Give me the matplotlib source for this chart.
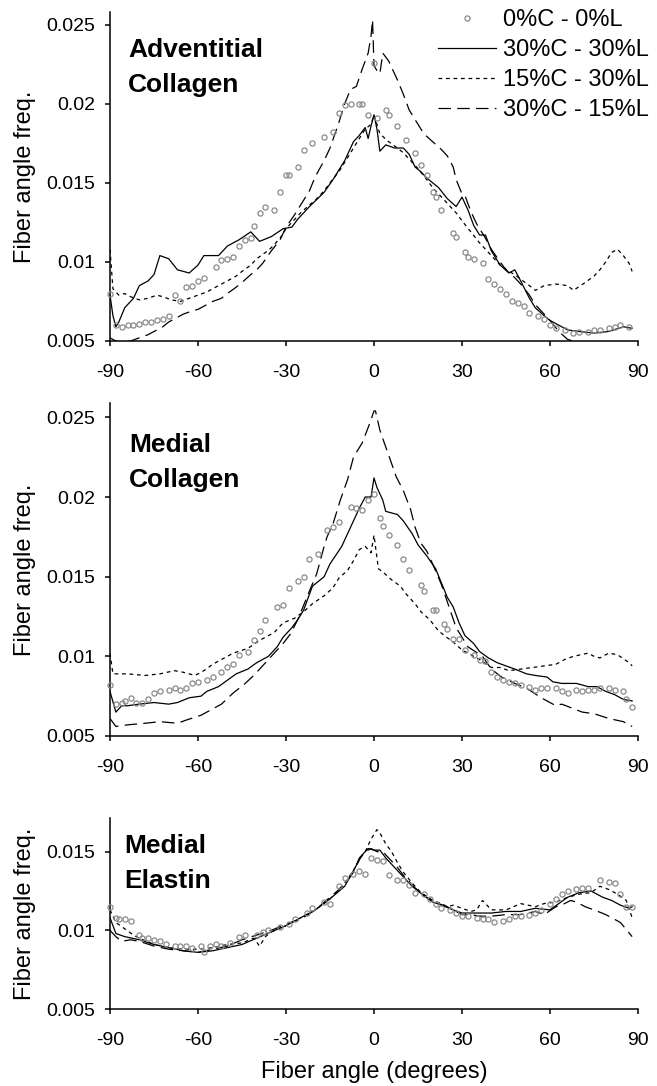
"""
Fiber angle distributions: three stacked panels (adventitial collagen,
medial collagen, medial elastin) for four loading conditions.
"""
import matplotlib
matplotlib.use("Agg")
import matplotlib.pyplot as plt
from matplotlib.lines import Line2D

W, H = 657, 1086

# ---------------- data ----------------
angle_ticks = [-90, -60, -30, 0, 30, 60, 90]
series_labels = ["0%C - 0%L", "30%C - 30%L", "15%C - 30%L", "30%C - 15%L"]

# Adventitial collagen
adv_ctrl_x = [-90, -88, -86, -84, -82, -80, -78, -76, -74, -72, -70, -68, -66, -64, -62, -60, -58, -54, -52, -50,
              -48, -46, -44, -42, -41, -39, -37, -34, -32, -30, -29, -26, -24, -21, -17, -14, -12, -10, -8, -5,
              -4, -2, 0, 1, 4, 5, 8, 11, 14, 16, 18, 20, 21, 23, 27, 28, 31, 32, 34, 37,
              39, 41, 43, 45, 47, 49, 51, 53, 56, 58, 60, 62, 65, 68, 70, 73, 75, 77, 80, 82, 84, 87]
adv_ctrl_y = [0.0080, 0.0060, 0.0059, 0.0060, 0.0060, 0.0061, 0.0062, 0.0062, 0.0063, 0.0064, 0.0066, 0.0079,
              0.0075, 0.0084, 0.0085, 0.0088, 0.0090, 0.0097, 0.0101, 0.0102, 0.0103, 0.0110, 0.0114, 0.0115,
              0.0123, 0.0131, 0.0135, 0.0133, 0.0144, 0.0155, 0.0155, 0.0160, 0.0171, 0.0175, 0.0179, 0.0182,
              0.0194, 0.0199, 0.0200, 0.0200, 0.0200, 0.0193, 0.0226, 0.0191, 0.0196, 0.0193, 0.0186, 0.0177,
              0.0169, 0.0161, 0.0155, 0.0144, 0.0141, 0.0133, 0.0118, 0.0116, 0.0106, 0.0103, 0.0102, 0.0099,
              0.0089, 0.0086, 0.0083, 0.0080, 0.0075, 0.0074, 0.0072, 0.0068, 0.0066, 0.0064, 0.0060, 0.0058,
              0.0057, 0.0055, 0.0056, 0.0056, 0.0057, 0.0057, 0.0058, 0.0059, 0.0060, 0.0059]
adv_3030_x = [-90, -89, -88, -87, -85, -82, -80, -77, -75, -73, -70, -67, -63, -60, -58, -53, -50, -46, -42, -39,
              -35, -31, -28, -26, -22, -17, -14, -12, -10, -7, -5, -3, -2, -1, 0, 1, 2, 4, 7, 10,
              12, 14, 16, 18, 20, 22, 25, 28, 30, 32, 34, 36, 38, 40, 43, 46, 48, 50, 53, 55,
              58, 60, 63, 66, 70, 75, 80, 85, 88]
adv_3030_y = [0.0079, 0.0066, 0.0059, 0.0062, 0.0071, 0.0077, 0.0085, 0.0088, 0.0092, 0.0104, 0.0102, 0.0095,
              0.0093, 0.0098, 0.0104, 0.0104, 0.0110, 0.0114, 0.0119, 0.0113, 0.0116, 0.0121, 0.0122, 0.0127,
              0.0135, 0.0144, 0.0152, 0.0158, 0.0164, 0.0176, 0.0180, 0.0185, 0.0178, 0.0186, 0.0193, 0.0184,
              0.0170, 0.0174, 0.0172, 0.0172, 0.0168, 0.0160, 0.0157, 0.0153, 0.0150, 0.0147, 0.0140, 0.0135,
              0.0141, 0.0133, 0.0123, 0.0117, 0.0117, 0.0107, 0.0098, 0.0093, 0.0095, 0.0088, 0.0077, 0.0071,
              0.0066, 0.0063, 0.0060, 0.0057, 0.0056, 0.0055, 0.0056, 0.0059, 0.0058]
adv_1530_x = [-90, -89, -87, -85, -83, -80, -77, -74, -72, -69, -66, -63, -60, -57, -55, -52, -50, -47, -45, -42,
              -40, -37, -35, -32, -30, -27, -25, -22, -20, -17, -15, -12, -10, -7, -5, -3, -1, 0, 2, 5,
              8, 10, 13, 15, 18, 20, 22, 25, 28, 30, 33, 36, 40, 43, 46, 48, 50, 53, 55, 58,
              62, 66, 68, 72, 75, 77, 79, 81, 83, 85, 87, 88]
adv_1530_y = [0.0108, 0.0083, 0.0079, 0.0080, 0.0078, 0.0076, 0.0077, 0.0079, 0.0078, 0.0076, 0.0075, 0.0077,
              0.0079, 0.0081, 0.0083, 0.0086, 0.0088, 0.0091, 0.0094, 0.0098, 0.0102, 0.0106, 0.0109, 0.0115,
              0.0121, 0.0127, 0.0131, 0.0136, 0.0139, 0.0145, 0.0150, 0.0157, 0.0163, 0.0172, 0.0178, 0.0184,
              0.0187, 0.0193, 0.0181, 0.0176, 0.0172, 0.0169, 0.0163, 0.0159, 0.0152, 0.0147, 0.0143, 0.0137,
              0.0131, 0.0126, 0.0119, 0.0112, 0.0104, 0.0098, 0.0094, 0.0092, 0.0089, 0.0085, 0.0082, 0.0085,
              0.0086, 0.0085, 0.0082, 0.0087, 0.0091, 0.0095, 0.0100, 0.0106, 0.0108, 0.0104, 0.0099, 0.0094]
adv_3015_x = [-90, -88, -86, -83, -80, -77, -75, -72, -70, -67, -65, -62, -60, -57, -55, -52, -50, -47, -45, -42,
              -40, -38, -35, -32, -30, -27, -25, -22, -20, -17, -15, -12, -10, -8, -6, -4, -2, -1, -0.5, 0,
              1, 2, 3, 5, 8, 10, 12, 14, 17, 20, 23, 25, 27, 28, 30, 31, 33, 35, 38, 40,
              43, 45, 48, 50, 53, 55, 58, 60, 63, 66, 70, 75, 80, 85, 88]
adv_3015_y = [0.0052, 0.0050, 0.0049, 0.0050, 0.0052, 0.0054, 0.0056, 0.0059, 0.0062, 0.0065, 0.0067, 0.0069,
              0.0070, 0.0073, 0.0075, 0.0077, 0.0080, 0.0084, 0.0087, 0.0092, 0.0095, 0.0099, 0.0107, 0.0114,
              0.0122, 0.0130, 0.0136, 0.0145, 0.0154, 0.0164, 0.0172, 0.0188, 0.0200, 0.0209, 0.0211, 0.0222,
              0.0232, 0.0243, 0.0253, 0.0224, 0.0221, 0.0219, 0.0232, 0.0227, 0.0215, 0.0206, 0.0196, 0.0190,
              0.0181, 0.0176, 0.0171, 0.0167, 0.0160, 0.0152, 0.0143, 0.0142, 0.0132, 0.0124, 0.0115, 0.0108,
              0.0100, 0.0095, 0.0090, 0.0086, 0.0079, 0.0073, 0.0067, 0.0063, 0.0056, 0.0051, 0.0049, 0.0046,
              0.0044, 0.0043, 0.0043]

# Medial collagen
med_ctrl_x = [-90, -88, -86, -85, -83, -81, -79, -77, -75, -73, -70, -68, -66, -64, -62, -60, -57, -55, -52, -50,
              -48, -46, -43, -41, -39, -37, -33, -31, -29, -26, -24, -22, -19, -16, -14, -12, -8, -6, -4, -2,
              0, 2, 3, 5, 8, 10, 12, 16, 17, 20, 21, 24, 25, 27, 29, 31, 34, 36, 38, 40,
              42, 44, 46, 48, 50, 53, 55, 57, 59, 62, 64, 66, 69, 71, 73, 75, 77, 80, 82, 85, 86, 88]
med_ctrl_y = [0.0082, 0.0070, 0.0071, 0.0072, 0.0074, 0.0071, 0.0071, 0.0073, 0.0077, 0.0078, 0.0079, 0.0080,
              0.0079, 0.0080, 0.0083, 0.0084, 0.0085, 0.0087, 0.0090, 0.0093, 0.0095, 0.0101, 0.0103, 0.0110,
              0.0116, 0.0123, 0.0131, 0.0132, 0.0143, 0.0147, 0.0150, 0.0161, 0.0164, 0.0179, 0.0181, 0.0184,
              0.0194, 0.0193, 0.0192, 0.0198, 0.0202, 0.0187, 0.0182, 0.0176, 0.0170, 0.0161, 0.0154, 0.0145,
              0.0141, 0.0129, 0.0129, 0.0120, 0.0117, 0.0111, 0.0111, 0.0104, 0.0101, 0.0098, 0.0097, 0.0090,
              0.0087, 0.0085, 0.0084, 0.0083, 0.0082, 0.0081, 0.0079, 0.0080, 0.0080, 0.0080, 0.0078, 0.0077,
              0.0079, 0.0078, 0.0079, 0.0079, 0.0080, 0.0080, 0.0079, 0.0078, 0.0073, 0.0068]
med_3030_x = [-90, -88, -86, -84, -80, -75, -70, -67, -63, -59, -57, -53, -50, -47, -43, -40, -36, -33, -31, -28,
              -26, -24, -21, -17, -15, -11, -9, -7, -5, -3, -1, 0, 1, 3, 4, 8, 10, 13, 15, 18,
              21, 23, 25, 27, 29, 31, 34, 36, 39, 42, 45, 48, 52, 55, 59, 61, 64, 69, 73, 76,
              79, 82, 85, 88]
med_3030_y = [0.0078, 0.0065, 0.0069, 0.0069, 0.0070, 0.0071, 0.0070, 0.0071, 0.0074, 0.0075, 0.0078, 0.0081,
              0.0085, 0.0089, 0.0092, 0.0096, 0.0100, 0.0106, 0.0112, 0.0118, 0.0123, 0.0129, 0.0144, 0.0150,
              0.0158, 0.0169, 0.0177, 0.0185, 0.0193, 0.0200, 0.0200, 0.0212, 0.0206, 0.0198, 0.0191, 0.0189,
              0.0185, 0.0177, 0.0170, 0.0163, 0.0155, 0.0146, 0.0137, 0.0131, 0.0121, 0.0113, 0.0108, 0.0103,
              0.0099, 0.0096, 0.0094, 0.0092, 0.0089, 0.0088, 0.0087, 0.0084, 0.0083, 0.0083, 0.0081, 0.0081,
              0.0078, 0.0076, 0.0073, 0.0072]
med_1530_x = [-90, -89, -84, -78, -73, -68, -65, -61, -58, -55, -51, -48, -43, -39, -34, -31, -27, -24, -21, -17,
              -14, -12, -9, -7, -5, -3, -1, 0, 1.5, 3, 6, 9, 11, 14, 16, 19, 22, 24, 27, 30,
              33, 36, 40, 43, 46, 50, 54, 58, 62, 65, 68, 73, 75, 77, 80, 83, 87, 88]
med_1530_y = [0.0102, 0.0089, 0.0089, 0.0088, 0.0089, 0.0091, 0.0090, 0.0088, 0.0091, 0.0095, 0.0099, 0.0102,
              0.0105, 0.0110, 0.0115, 0.0121, 0.0124, 0.0128, 0.0133, 0.0138, 0.0143, 0.0149, 0.0154, 0.0160,
              0.0167, 0.0169, 0.0165, 0.0176, 0.0155, 0.0153, 0.0148, 0.0144, 0.0139, 0.0133, 0.0128, 0.0123,
              0.0116, 0.0113, 0.0109, 0.0104, 0.0101, 0.0098, 0.0093, 0.0093, 0.0091, 0.0092, 0.0093, 0.0094,
              0.0095, 0.0098, 0.0100, 0.0102, 0.0100, 0.0099, 0.0102, 0.0101, 0.0096, 0.0094]
med_3015_x = [-90, -88, -84, -78, -73, -67, -64, -59, -56, -52, -48, -44.5, -41, -37.5, -34, -31, -28.5, -26, -24,
              -22, -19.5, -17, -16, -14, -11.5, -9, -7, -4, -1.5, 0, 0.5, 2, 3.5, 6, 7.5, 10, 12.5, 14,
              16, 18, 20, 23, 28, 32, 37, 40, 43.5, 48, 52, 57, 62, 64, 71, 75, 80, 85, 88]
med_3015_y = [0.0061, 0.0056, 0.0057, 0.0058, 0.0059, 0.0058, 0.0060, 0.0063, 0.0066, 0.0070, 0.0077, 0.0082,
              0.0088, 0.0095, 0.0102, 0.0108, 0.0114, 0.0123, 0.0132, 0.0141, 0.0152, 0.0169, 0.0175, 0.0183,
              0.0198, 0.0211, 0.0225, 0.0234, 0.0246, 0.0254, 0.0254, 0.0242, 0.0234, 0.0221, 0.0213, 0.0204,
              0.0192, 0.0181, 0.0171, 0.0166, 0.0158, 0.0145, 0.0118, 0.0106, 0.0100, 0.0092, 0.0087, 0.0083,
              0.0080, 0.0074, 0.0069, 0.0070, 0.0065, 0.0064, 0.0061, 0.0059, 0.0056]

# Medial elastin
ela_ctrl_x = [-90, -88, -87, -85, -83, -80, -79, -77, -75, -73, -71, -68, -66, -64, -62, -59, -58, -56, -54, -52,
              -49, -46, -44, -40, -38, -36, -32, -29, -27, -23, -21, -17, -15, -12, -10, -7, -5, -3, -1, 1,
              3, 5, 8, 10, 12, 14, 17, 19, 21, 23, 26, 28, 30, 32, 35, 37, 39, 41, 44, 46,
              48, 50, 53, 55, 57, 60, 62, 64, 66, 69, 71, 73, 77, 80, 82, 84, 86, 88]
ela_ctrl_y = [0.0115, 0.0108, 0.0107, 0.0107, 0.0106, 0.0097, 0.0095, 0.0095, 0.0094, 0.0093, 0.0091, 0.0090,
              0.0090, 0.0090, 0.0089, 0.0090, 0.0086, 0.0090, 0.0091, 0.0090, 0.0092, 0.0096, 0.0097, 0.0097,
              0.0099, 0.0100, 0.0102, 0.0104, 0.0107, 0.0111, 0.0114, 0.0118, 0.0117, 0.0128, 0.0133, 0.0136,
              0.0138, 0.0136, 0.0146, 0.0145, 0.0144, 0.0135, 0.0132, 0.0132, 0.0129, 0.0124, 0.0123, 0.0120,
              0.0117, 0.0114, 0.0113, 0.0111, 0.0109, 0.0109, 0.0108, 0.0107, 0.0107, 0.0105, 0.0106, 0.0107,
              0.0109, 0.0109, 0.0110, 0.0111, 0.0113, 0.0117, 0.0120, 0.0123, 0.0125, 0.0126, 0.0127, 0.0127,
              0.0132, 0.0131, 0.0130, 0.0123, 0.0115, 0.0115]
ela_3030_x = [-90, -88, -85, -80, -75, -70, -65, -60, -55, -50, -45, -40, -35, -30, -25, -20, -15, -10, -7, -4,
              -2, 0, 2, 4, 7, 10, 13, 17, 20, 23, 27, 30, 35, 40, 45, 50, 55, 60, 63, 66,
              70, 74, 78, 81, 84, 87, 88]
ela_3030_y = [0.0108, 0.0098, 0.0096, 0.0094, 0.0091, 0.0089, 0.0087, 0.0086, 0.0087, 0.0089, 0.0091, 0.0095,
              0.0099, 0.0103, 0.0108, 0.0113, 0.0120, 0.0128, 0.0138, 0.0148, 0.0152, 0.0151, 0.0151, 0.0146,
              0.0140, 0.0134, 0.0128, 0.0122, 0.0118, 0.0116, 0.0113, 0.0111, 0.0111, 0.0111, 0.0112, 0.0112,
              0.0114, 0.0113, 0.0117, 0.0121, 0.0124, 0.0125, 0.0121, 0.0119, 0.0116, 0.0114, 0.0115]
ela_1530_x = [-90, -88, -85, -82, -80, -75, -70, -65, -60, -55, -50, -45, -41, -39, -37, -35, -30, -25, -20, -15,
              -10, -7, -5, -3, -1, 1, 2, 4, 6, 8, 10, 13, 16, 20, 23, 25, 27, 30, 33, 35,
              37, 40, 45, 50, 55, 58, 62, 66, 70, 74, 77, 80, 83, 86, 88]
ela_1530_y = [0.0113, 0.0105, 0.0101, 0.0097, 0.0095, 0.0091, 0.0089, 0.0088, 0.0088, 0.0089, 0.0091, 0.0092,
              0.0095, 0.0090, 0.0096, 0.0099, 0.0103, 0.0108, 0.0113, 0.0120, 0.0130, 0.0138, 0.0145, 0.0150,
              0.0158, 0.0164, 0.0162, 0.0155, 0.0150, 0.0143, 0.0137, 0.0130, 0.0124, 0.0119, 0.0117, 0.0115,
              0.0116, 0.0114, 0.0112, 0.0113, 0.0119, 0.0113, 0.0113, 0.0117, 0.0115, 0.0117, 0.0118, 0.0121,
              0.0123, 0.0124, 0.0128, 0.0126, 0.0123, 0.0119, 0.0108]
ela_3015_x = [-90, -88, -86, -83, -80, -75, -70, -65, -60, -55, -50, -45, -40, -35, -30, -25, -20, -15, -10, -7,
              -5, -3, -1, 1, 3, 5, 8, 10, 14, 18, 22, 25, 28, 30, 33, 36, 40, 45, 50, 55,
              58, 62, 65, 67, 69, 72, 75, 79, 84, 88]
ela_3015_y = [0.0100, 0.0096, 0.0093, 0.0094, 0.0093, 0.0090, 0.0088, 0.0087, 0.0086, 0.0088, 0.0090, 0.0094,
              0.0097, 0.0100, 0.0104, 0.0107, 0.0113, 0.0121, 0.0129, 0.0137, 0.0146, 0.0150, 0.0152, 0.0150,
              0.0150, 0.0146, 0.0140, 0.0135, 0.0127, 0.0121, 0.0117, 0.0115, 0.0112, 0.0110, 0.0110, 0.0109,
              0.0109, 0.0110, 0.0110, 0.0112, 0.0110, 0.0115, 0.0117, 0.0119, 0.0118, 0.0115, 0.0113, 0.0110,
              0.0105, 0.0096]

adv_yticks = [0.005, 0.01, 0.015, 0.02, 0.025]
adv_ytick_labels = ["0.005", "0.01", "0.015", "0.02", "0.025"]
med_yticks = [0.005, 0.01, 0.015, 0.02, 0.025]
med_ytick_labels = ["0.005", "0.01", "0.015", "0.02", "0.025"]
ela_yticks = [0.005, 0.01, 0.015]
ela_ytick_labels = ["0.005", "0.01", "0.015"]

# ---------------- styles / layout ----------------
plt.rcParams["font.family"] = ["Liberation Sans", "DejaVu Sans"]

STYLE_CTRL = dict(ls="none", marker="o", ms=3.7, mfc="none", mec="#8a8a8a", mew=0.9, clip_on=False, zorder=3)
STYLE_3030 = dict(color="black", lw=0.9, ls="-")
STYLE_1530 = dict(color="black", lw=0.9, ls=(0, (3, 3)))
STYLE_3015 = dict(color="black", lw=0.9, ls=(0, (10, 5)))

LEFT_PX, RIGHT_PX = 110, 638


def px_rect(top_px, bottom_px):
    return [LEFT_PX / W, 1 - bottom_px / H, (RIGHT_PX - LEFT_PX) / W, (bottom_px - top_px) / H]


panels = [
    dict(rect=px_rect(12, 341), ylim=(0.005, 0.0258), yticks=adv_yticks, ylabels=adv_ytick_labels,
         ctrl=(adv_ctrl_x, adv_ctrl_y), s3030=(adv_3030_x, adv_3030_y),
         s1530=(adv_1530_x, adv_1530_y), s3015=(adv_3015_x, adv_3015_y),
         title=["Adventitial", "Collagen"], title_xy=(128, [57, 92])),
    dict(rect=px_rect(403, 736), ylim=(0.005, 0.0259), yticks=med_yticks, ylabels=med_ytick_labels,
         ctrl=(med_ctrl_x, med_ctrl_y), s3030=(med_3030_x, med_3030_y),
         s1530=(med_1530_x, med_1530_y), s3015=(med_3015_x, med_3015_y),
         title=["Medial", "Collagen"], title_xy=(129, [452, 487])),
    dict(rect=px_rect(818, 1009), ylim=(0.005, 0.01714), yticks=ela_yticks, ylabels=ela_ytick_labels,
         ctrl=(ela_ctrl_x, ela_ctrl_y), s3030=(ela_3030_x, ela_3030_y),
         s1530=(ela_1530_x, ela_1530_y), s3015=(ela_3015_x, ela_3015_y),
         title=["Medial", "Elastin"], title_xy=(124, [853, 888])),
]

fig = plt.figure(figsize=(W / 100, H / 100), dpi=100)
axes = []
for p in panels:
    ax = fig.add_axes(p["rect"])
    ax.plot(*p["s3030"], **STYLE_3030)
    ax.plot(*p["s1530"], **STYLE_1530)
    ax.plot(*p["s3015"], **STYLE_3015)
    ax.plot(*p["ctrl"], **STYLE_CTRL)

    ax.set_xlim(-90, 90)
    ax.set_ylim(*p["ylim"])
    ax.set_xticks(angle_ticks)
    ax.set_xticklabels([str(a) for a in angle_ticks])
    ax.set_yticks(p["yticks"])
    ax.set_yticklabels(p["ylabels"])
    for side in ("top", "right"):
        ax.spines[side].set_visible(False)
    for side in ("left", "bottom"):
        ax.spines[side].set_linewidth(1.1)
    ax.tick_params(axis="both", direction="out", length=3.5, width=1.1, labelsize=14)
    ax.tick_params(axis="x", pad=13)
    ax.tick_params(axis="y", pad=7)

    ax.set_ylabel("Fiber angle freq.", fontsize=17)
    ax.yaxis.set_label_coords(-0.140, 0.5)

    x_px, base_px = p["title_xy"]
    for line, yb in zip(p["title"], base_px):
        fig.text(x_px / W, 1 - yb / H, line, fontsize=19, fontweight="bold",
                 ha="left", va="baseline")
    axes.append(ax)

axes[-1].set_xlabel("Fiber angle (degrees)", fontsize=17)
axes[-1].xaxis.set_label_coords(0.5, -0.272)

handles = [
    Line2D([], [], **{k: v for k, v in STYLE_CTRL.items() if k != "clip_on"}),
    Line2D([], [], **STYLE_3030),
    Line2D([], [], **STYLE_1530),
    Line2D([], [], **STYLE_3015),
]
axes[0].legend(handles, series_labels, loc="upper right", bbox_to_anchor=(649 / W, 1 - 9 / H),
               bbox_transform=fig.transFigure, frameon=False, fontsize=17, handlelength=2.46,
               handletextpad=0.3, labelspacing=0.34, borderpad=0, borderaxespad=0, numpoints=1)

fig.savefig("out.png", dpi=100)
plt.close(fig)
